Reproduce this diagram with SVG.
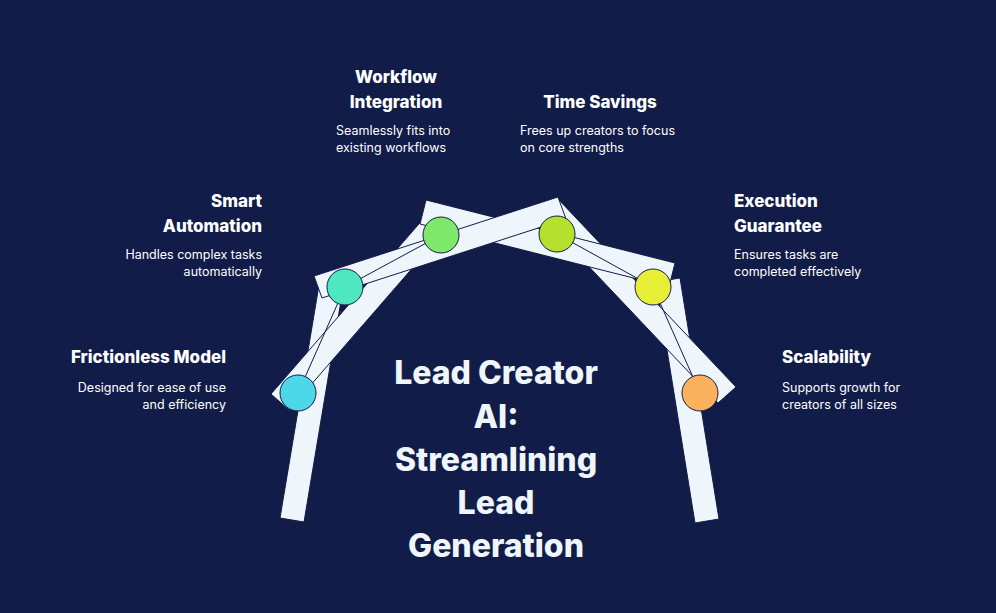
<svg xmlns="http://www.w3.org/2000/svg" width="996" height="613" viewBox="0 0 996 613">
<style>
.bar{fill:#eef6fc;stroke:#121c48;stroke-width:1}
.h{font-family:Inter,"Liberation Sans",sans-serif;font-weight:800;font-size:17px;fill:#ffffff}
.d{font-family:Inter,"Liberation Sans",sans-serif;font-size:12.5px;fill:#ffffff}
.t{font-family:Inter,"Liberation Sans",sans-serif;font-weight:800;font-size:32px;fill:#eef6fc;text-anchor:middle}
.c{stroke:#121c48;stroke-width:1}
</style>
<rect width="996" height="613" fill="#121c48"/>
<g id="arch">
<polygon class="bar" points="280,518 304,522 345,277 321,273"/>
<polygon class="bar" points="719,519 695,523 656,282 680,278"/>
<polygon class="bar" points="271,394 289,410 456,218 438,202"/>
<polygon class="bar" points="559,200 541,216 718,403 736,387"/>
<polygon class="bar" points="426,200 420,224 669,287 675,263"/>
<polygon class="bar" points="314,276 322,298 566,219 558,197"/>
</g>
<g id="connectors" stroke="#121c48" stroke-width="1" fill="none">
<polyline points="298,393 345,287 441,235"/>
<polyline points="557,234 653,287 700,393"/>
</g>
<g id="n1"><circle class="c" cx="298" cy="393" r="18" fill="#4dd8ea"/>
<text class="h" x="226" y="363" text-anchor="end">Frictionless Model</text>
<text class="d" x="226" y="392" text-anchor="end">Designed for ease of use</text>
<text class="d" x="226" y="409" text-anchor="end">and efficiency</text></g>
<g id="n2"><circle class="c" cx="345" cy="287" r="18" fill="#4ee8c0"/>
<text class="h" x="262" y="207" text-anchor="end">Smart</text>
<text class="h" x="262" y="232" text-anchor="end">Automation</text>
<text class="d" x="262" y="259" text-anchor="end">Handles complex tasks</text>
<text class="d" x="262" y="276" text-anchor="end">automatically</text></g>
<g id="n3"><circle class="c" cx="441" cy="235" r="18" fill="#7ee86b"/>
<text class="h" x="396" y="83" text-anchor="middle">Workflow</text>
<text class="h" x="396" y="108" text-anchor="middle">Integration</text>
<text class="d" x="336" y="135">Seamlessly fits into</text>
<text class="d" x="336" y="152">existing workflows</text></g>
<g id="n4"><circle class="c" cx="557" cy="234" r="18" fill="#b5e02e"/>
<text class="h" x="600" y="108" text-anchor="middle">Time Savings</text>
<text class="d" x="520" y="135">Frees up creators to focus</text>
<text class="d" x="520" y="152">on core strengths</text></g>
<g id="n5"><circle class="c" cx="653" cy="287" r="18" fill="#e6ef35"/>
<text class="h" x="734" y="207">Execution</text>
<text class="h" x="734" y="232">Guarantee</text>
<text class="d" x="734" y="259">Ensures tasks are</text>
<text class="d" x="734" y="276">completed effectively</text></g>
<g id="n6"><circle class="c" cx="700" cy="393" r="18" fill="#fcb25c"/>
<text class="h" x="782" y="363">Scalability</text>
<text class="d" x="782" y="392">Supports growth for</text>
<text class="d" x="782" y="409">creators of all sizes</text></g>
<g id="title">
<text class="t" x="496" y="384">Lead Creator</text>
<text class="t" x="496" y="428">AI:</text>
<text class="t" x="496" y="471">Streamlining</text>
<text class="t" x="496" y="514">Lead</text>
<text class="t" x="496" y="557">Generation</text>
</g>
</svg>
